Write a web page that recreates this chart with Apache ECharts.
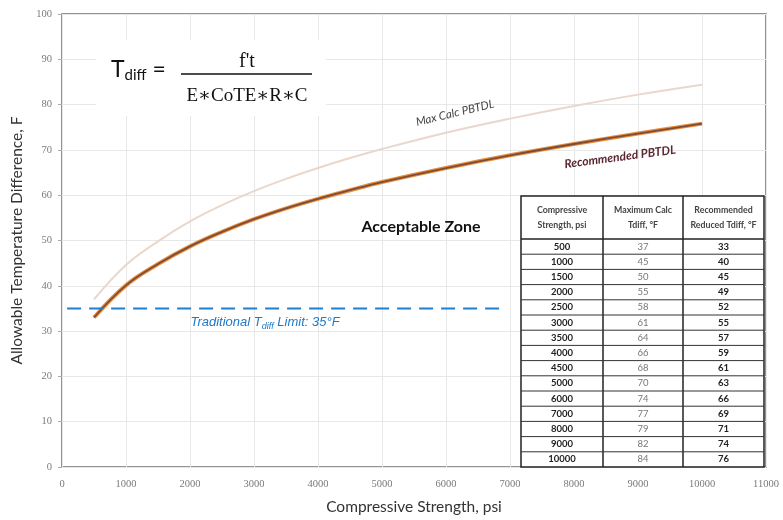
<!DOCTYPE html>
<html>
<head>
<meta charset="utf-8">
<script src="https://cdn.jsdelivr.net/npm/echarts@6/dist/echarts.min.js"></script>
<style>
  html, body { margin: 0; padding: 0; background: #fff; }
  #chart { width: 783px; height: 520px; }
</style>
</head>
<body>
<div id="chart"></div>
<script>
// chart data (curve values; table values as printed)
const strength = [500, 1000, 1500, 2000, 2500, 3000, 3500, 4000, 4500, 5000, 6000, 7000, 8000, 9000, 10000];
const maxCalcCurve = [37, 44.6, 49.8, 54.2, 57.8, 60.9, 63.6, 66.0, 68.2, 70.2, 73.8, 76.9, 79.7, 82.2, 84.4];
const recommendedCurve = [33, 40.1, 44.8, 48.7, 51.9, 54.7, 57.1, 59.2, 61.1, 62.9, 66.0, 68.8, 71.3, 73.6, 75.8];
const maxCalcTable = [37, 45, 50, 55, 58, 61, 64, 66, 68, 70, 74, 77, 79, 82, 84];
const recommendedTable = [33, 40, 45, 49, 52, 55, 57, 59, 61, 63, 66, 69, 71, 74, 76];
const limitX = [80, 6840];
const limitY = [35, 35];
const tableHeaders = ['Compressive\nStrength, psi', 'Maximum Calc\nTdiff, °F', 'Recommended\nReduced Tdiff, °F'];

const FONT = 'Lato, "Open Sans", sans-serif';
const SERIF = '"Liberation Serif", "DejaVu Serif", serif';

const pairs = (xs, ys) => xs.map((x, i) => [x, ys[i]]);

// table built from the arrays above
function buildTable() {
  const left = 521, top = 196, headH = 43, rowH = 15.2;
  const colX = [521, 603, 683, 764];
  const els = [];
  const bottom = top + headH + rowH * strength.length;
  els.push({ type: 'rect', shape: { x: left, y: top, width: colX[3] - left, height: bottom - top },
    style: { fill: '#fff', stroke: '#222', lineWidth: 1.5 }, z: 10 });
  for (let c = 1; c < 3; c++) {
    els.push({ type: 'line', shape: { x1: colX[c], y1: top, x2: colX[c], y2: bottom },
      style: { stroke: '#222', lineWidth: 1.5 }, z: 11 });
  }
  els.push({ type: 'line', shape: { x1: left, y1: top + headH, x2: colX[3], y2: top + headH },
    style: { stroke: '#222', lineWidth: 1.5 }, z: 11 });
  for (let r = 1; r < strength.length; r++) {
    const y = top + headH + r * rowH;
    els.push({ type: 'line', shape: { x1: left, y1: y, x2: colX[3], y2: y },
      style: { stroke: '#333', lineWidth: 1 }, z: 11 });
  }
  tableHeaders.forEach((h, c) => {
    els.push({ type: 'text', x: (colX[c] + colX[c + 1]) / 2, y: top + headH / 2, z: 12,
      style: { text: h, align: 'center', verticalAlign: 'middle', fontSize: 8.8, lineHeight: 15,
        fontWeight: 'bold', fill: '#444', fontFamily: FONT } });
  });
  strength.forEach((s, r) => {
    const cy = top + headH + r * rowH + rowH / 2;
    const vals = [s, maxCalcTable[r], recommendedTable[r]];
    vals.forEach((v, c) => {
      els.push({ type: 'text', x: (colX[c] + colX[c + 1]) / 2, y: cy, z: 12,
        style: { text: String(v), align: 'center', verticalAlign: 'middle', fontSize: 9.5,
          fontWeight: c === 1 ? 'normal' : 'bold', fill: c === 1 ? '#777' : '#222', fontFamily: FONT } });
    });
  });
  return els;
}

const chart = echarts.init(document.getElementById('chart'));

const option = {
  backgroundColor: '#fff',
  animation: false,
  grid: { left: 62, right: 17, top: 14, bottom: 53, show: true, borderColor: '#6f6f6f', borderWidth: 1.5 },
  xAxis: {
    type: 'value', min: 0, max: 11000, interval: 1000,
    name: 'Compressive Strength, psi', nameLocation: 'middle', nameGap: 32,
    nameTextStyle: { fontSize: 15.5, color: '#333', fontFamily: FONT },
    axisLine: { show: false },
    axisTick: { show: false },
    axisLabel: { color: '#7a7a7a', fontSize: 10.5, margin: 12, fontFamily: SERIF, formatter: v => String(v) },
    splitLine: { lineStyle: { color: '#e8e8e8', width: 1 } }
  },
  yAxis: {
    type: 'value', min: 0, max: 100, interval: 10,
    name: 'Allowable Temperature Difference, F', nameLocation: 'middle', nameGap: 34,
    nameTextStyle: { fontSize: 15.5, color: '#333', fontFamily: FONT },
    axisLine: { show: false },
    axisTick: { show: true, length: 4, lineStyle: { color: '#aaa' } },
    axisLabel: { color: '#7a7a7a', fontSize: 10.5, margin: 10, fontFamily: SERIF },
    splitLine: { lineStyle: { color: '#e8e8e8', width: 1 } }
  },
  series: [
    {
      name: 'Max Calc PBTDL', type: 'line', smooth: 0.4, showSymbol: false,
      data: pairs(strength, maxCalcCurve),
      lineStyle: { color: '#ead7cc', width: 2 }, z: 3
    },
    {
      name: 'Recommended under', type: 'line', smooth: 0.4, showSymbol: false,
      data: pairs(strength, recommendedCurve),
      lineStyle: { color: '#e88d3c', width: 4 }, z: 3
    },
    {
      name: 'Recommended PBTDL', type: 'line', smooth: 0.4, showSymbol: false,
      data: pairs(strength, recommendedCurve),
      lineStyle: { color: '#7a4d3a', width: 1.8 }, z: 4
    },
    {
      name: 'Traditional limit', type: 'line', showSymbol: false,
      data: pairs(limitX, limitY),
      lineStyle: { color: '#1f7fd0', width: 2, type: [14, 8] }, z: 5
    }
  ],
  graphic: [
    // formula
    { type: 'rect', shape: { x: 96, y: 40, width: 230, height: 76 }, style: { fill: '#fff' }, z: 8 },
    { type: 'text', x: 111, y: 70, z: 9,
      style: { text: '{t|T}{s|diff}{e| =}', verticalAlign: 'middle', fill: '#111', fontFamily: FONT,
        rich: {
          t: { fontSize: 23, lineHeight: 28, verticalAlign: 'middle', fontFamily: FONT, fill: '#111' },
          s: { fontSize: 15, lineHeight: 28, verticalAlign: 'bottom', fontFamily: FONT, fill: '#111', padding: [0, 0, 1, 0] },
          e: { fontSize: 23, lineHeight: 28, verticalAlign: 'middle', fontFamily: FONT, fill: '#111' }
        } } },
    { type: 'line', shape: { x1: 181, y1: 74, x2: 312, y2: 74 }, style: { stroke: '#111', lineWidth: 1.5 }, z: 9 },
    { type: 'text', x: 247, y: 62, z: 9,
      style: { text: "f't", align: 'center', verticalAlign: 'middle', fontSize: 20, fill: '#111', fontFamily: SERIF } },
    { type: 'text', x: 247, y: 96, z: 9,
      style: { text: 'E∗CoTE∗R∗C', align: 'center', verticalAlign: 'middle', fontSize: 19, fill: '#111', fontFamily: SERIF } },
    // annotations
    { type: 'text', x: 455, y: 113, rotation: 13.5 * Math.PI / 180, z: 9,
      style: { text: 'Max Calc PBTDL', align: 'center', verticalAlign: 'middle', fontSize: 11.5,
        fontStyle: 'italic', fill: '#444', fontFamily: FONT } },
    { type: 'text', x: 620, y: 157, rotation: 7.5 * Math.PI / 180, z: 9,
      style: { text: 'Recommended PBTDL', align: 'center', verticalAlign: 'middle', fontSize: 12,
        fontStyle: 'italic', fontWeight: 'bold', fill: '#5a2630', fontFamily: FONT } },
    { type: 'text', x: 421, y: 227, z: 9,
      style: { text: 'Acceptable Zone', align: 'center', verticalAlign: 'middle', fontSize: 16,
        fontWeight: 'bold', fill: '#111', fontFamily: FONT } },
    { type: 'text', x: 265, y: 322, z: 9,
      style: { text: '{a|Traditional T}{s|diff}{a| Limit: 35°F}', align: 'center', verticalAlign: 'middle',
        rich: {
          a: { fontSize: 13, lineHeight: 18, fontStyle: 'italic', fill: '#1f78c8', fontFamily: '"Liberation Sans", Arial, sans-serif', verticalAlign: 'middle' },
          s: { fontSize: 9, lineHeight: 18, fontStyle: 'italic', fill: '#1f78c8', fontFamily: '"Liberation Sans", Arial, sans-serif', verticalAlign: 'bottom' }
        } } }
  ].concat(buildTable())
};

chart.setOption(option);
</script>
</body>
</html>
